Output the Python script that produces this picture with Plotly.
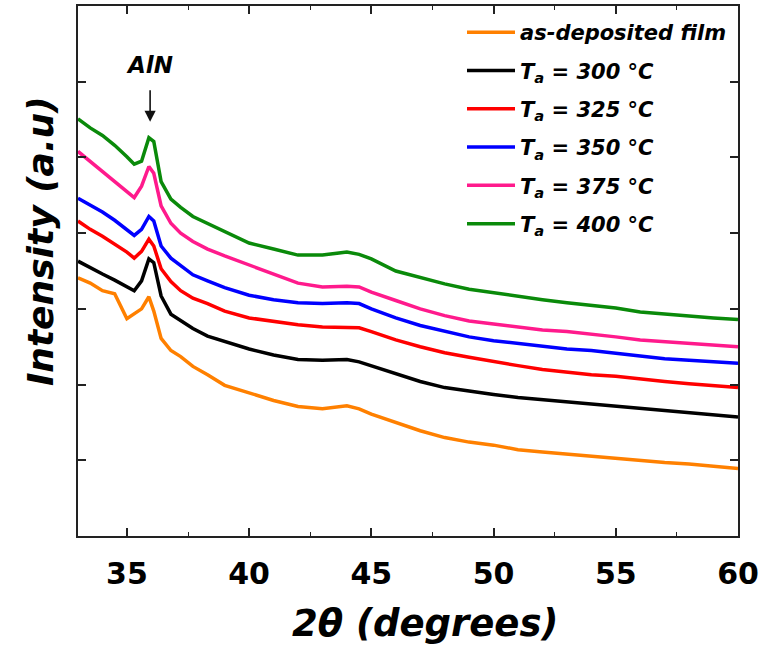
import plotly.graph_objects as go

two_theta = [33, 33.5, 34, 34.5, 35, 35.3, 35.6, 35.9, 36.1, 36.4, 36.8, 37.2, 37.7, 38.3, 39,
             40, 41, 42, 43, 44, 44.5, 45, 46, 47, 48, 49, 50, 51, 52, 53, 54, 55, 56, 57, 58, 59, 60]

as_deposited = [3.41, 3.34, 3.24, 3.20, 2.87, 2.93, 3.00, 3.16, 2.97, 2.61, 2.45, 2.37, 2.24, 2.13, 1.99,
                1.89, 1.79, 1.71, 1.68, 1.72, 1.68, 1.61, 1.50, 1.39, 1.30, 1.24, 1.20, 1.14, 1.11, 1.08,
                1.05, 1.03, 1.00, 0.97, 0.95, 0.92, 0.89]
ta_300 = [3.63, 3.54, 3.46, 3.38, 3.30, 3.24, 3.37, 3.66, 3.61, 3.17, 2.93, 2.84, 2.74, 2.64, 2.57,
          2.47, 2.39, 2.33, 2.32, 2.33, 2.30, 2.25, 2.14, 2.04, 1.96, 1.91, 1.87, 1.83, 1.80, 1.78,
          1.75, 1.72, 1.68, 1.66, 1.62, 1.59, 1.57]
ta_325 = [4.16, 4.05, 3.96, 3.86, 3.75, 3.67, 3.76, 3.92, 3.83, 3.53, 3.36, 3.24, 3.14, 3.07, 2.97,
          2.88, 2.83, 2.79, 2.76, 2.76, 2.75, 2.70, 2.59, 2.50, 2.42, 2.36, 2.30, 2.25, 2.20, 2.16,
          2.13, 2.11, 2.07, 2.04, 2.01, 1.99, 1.96]
ta_350 = [4.46, 4.37, 4.28, 4.17, 4.05, 3.97, 4.05, 4.22, 4.16, 3.83, 3.67, 3.57, 3.45, 3.37, 3.28,
          3.18, 3.12, 3.08, 3.07, 3.08, 3.07, 3.00, 2.88, 2.78, 2.70, 2.63, 2.58, 2.54, 2.50, 2.47,
          2.45, 2.41, 2.37, 2.34, 2.32, 2.30, 2.28]
ta_375 = [5.08, 4.95, 4.82, 4.68, 4.55, 4.47, 4.62, 4.88, 4.79, 4.36, 4.13, 4.00, 3.89, 3.79, 3.70,
          3.58, 3.46, 3.34, 3.29, 3.30, 3.29, 3.22, 3.11, 3.00, 2.91, 2.84, 2.80, 2.76, 2.72, 2.70,
          2.67, 2.63, 2.59, 2.57, 2.54, 2.53, 2.50]
ta_400 = [5.51, 5.39, 5.29, 5.16, 5.01, 4.91, 4.95, 5.26, 5.21, 4.68, 4.45, 4.34, 4.22, 4.13, 4.03,
          3.87, 3.79, 3.71, 3.71, 3.75, 3.72, 3.66, 3.50, 3.41, 3.33, 3.26, 3.21, 3.16, 3.12, 3.08,
          3.05, 3.01, 2.96, 2.93, 2.91, 2.88, 2.86]

series_names = ["as-deposited film", "T<sub>a</sub> = 300 °C", "T<sub>a</sub> = 325 °C",
                "T<sub>a</sub> = 350 °C", "T<sub>a</sub> = 375 °C", "T<sub>a</sub> = 400 °C"]
series_values = [as_deposited, ta_300, ta_325, ta_350, ta_375, ta_400]
series_colors = ["#ff8000", "#000000", "#ff0000", "#0000ff", "#ff1a8c", "#0a8a0a"]

peak_x = 35.95
peak_y = 5.47
x_ticks = [35, 40, 45, 50, 55, 60]

FONT = "DejaVu Sans"

fig = go.Figure()
for name, vals, col in zip(series_names, series_values, series_colors):
    fig.add_trace(go.Scatter(x=two_theta, y=vals, mode="lines", name=name,
                             legendgroup=name,
                             line=dict(color=col, width=3.5)))

axis_common = dict(showline=True, linecolor="#222222", linewidth=1.6, mirror="allticks",
                   ticks="inside", tickcolor="#222222", tickwidth=1.6, ticklen=8,
                   showgrid=False, zeroline=False)

fig.update_xaxes(range=[33, 60], tickvals=x_ticks,
                 tickfont=dict(family=FONT, size=30, color="black", weight="bold"),
                 minor=dict(dtick=2.5, tick0=0, ticks="inside", ticklen=4, tickcolor="#222222",
                            tickwidth=1.4),
                 ticklabelstandoff=10,
                 **axis_common)
fig.update_yaxes(range=[0, 7], dtick=1, showticklabels=False, **axis_common)

fig.add_annotation(x=peak_x, y=peak_y, ax=0, ay=-33, text="", showarrow=True,
                   arrowhead=2, arrowsize=1.4, arrowwidth=1.6, arrowcolor="#111111",
                   xref="x", yref="y")
fig.add_annotation(x=peak_x, y=peak_y, xref="x", yref="y", xshift=-1, yshift=57,
                   text="AlN", showarrow=False,
                   font=dict(family=FONT, size=23, color="black", weight="bold", style="italic"))

fig.add_annotation(x=(425 - 78) / 660, y=-(624 - 536) / 532, xref="paper", yref="paper",
                   xanchor="center", yanchor="middle",
                   text="2θ (degrees)", showarrow=False,
                   font=dict(family=FONT, size=37, color="black", weight="bold", style="italic"))
fig.add_annotation(x=-(78 - 40) / 660, y=(536 - 240) / 532, xref="paper", yref="paper",
                   xanchor="center", yanchor="middle",
                   text="Intensity (a.u)", textangle=-90, showarrow=False,
                   font=dict(family=FONT, size=36, color="black", weight="bold", style="italic"))

fig.update_layout(
    width=764, height=648,
    margin=dict(l=78, r=26, t=4, b=112),
    paper_bgcolor="white", plot_bgcolor="white",
    showlegend=True,
    legend=dict(x=(462 - 78) / 660, y=1.0 - 6 / 532, xanchor="left", yanchor="top",
                bgcolor="rgba(0,0,0,0)", borderwidth=0, itemwidth=48,
                tracegroupgap=8,
                font=dict(family=FONT, size=21, color="black", weight="bold", style="italic")),
)

fig.write_html("out.html", config={"displayModeBar": False},
               post_script="document.body.style.margin='0px';")
